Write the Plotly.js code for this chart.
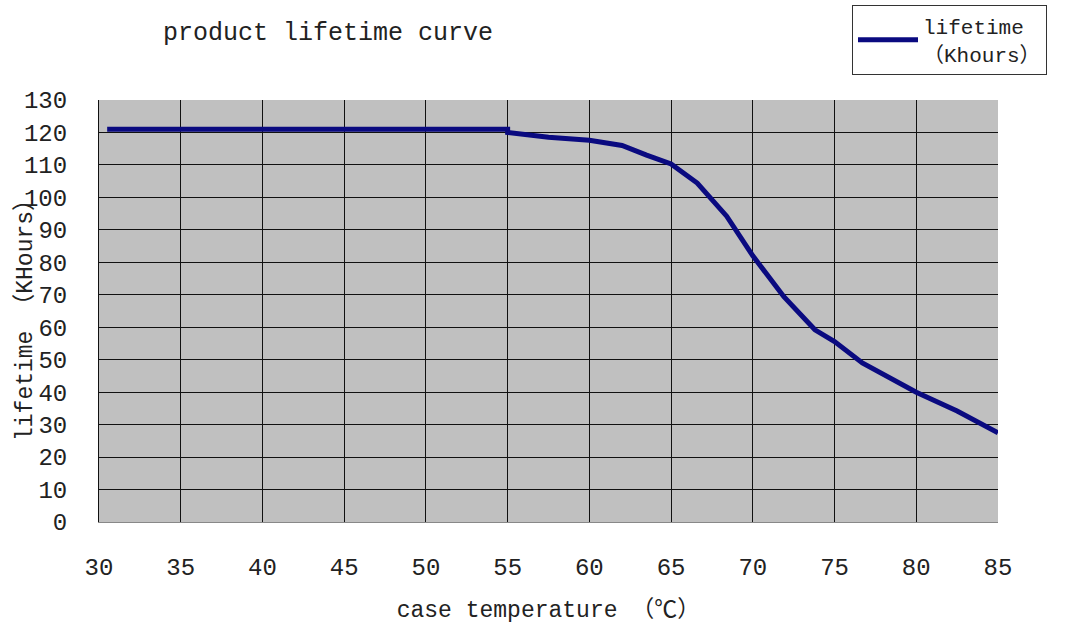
<!DOCTYPE html>
<html>
<head>
<meta charset="utf-8">
<script src="https://cdn.plot.ly/plotly-3.0.1.min.js"></script>
<style>html,body{margin:0;padding:0;background:#fff;}#chart{width:1067px;height:627px;}</style>
</head>
<body>
<div id="chart"></div>
<script>
const temperature = [30.5, 55, 55, 57.5, 60, 62, 63.5, 65, 66.6, 68.4, 70, 71.9, 73.8, 75, 76.7, 80, 82.5, 85];
const lifetime = [121, 121, 120, 118.5, 117.6, 116, 113, 110.3, 104.4, 94.2, 82, 69.4, 59.2, 55.6, 49, 40, 34.2, 27.5];
const xTicks = [30, 35, 40, 45, 50, 55, 60, 65, 70, 75, 80, 85];
const yTicks = [0, 10, 20, 30, 40, 50, 60, 70, 80, 90, 100, 110, 120, 130];
const yTitle = 'lifetime （KHours）';

const FONT = '"Liberation Mono", "DejaVu Sans Mono", "Noto Sans CJK SC", monospace';

const trace = {
  x: temperature,
  y: lifetime,
  type: 'scatter',
  mode: 'lines',
  name: 'lifetime<br>（Khours）',
  line: {color: '#0a0a80', width: 5}
};

const layout = {
  width: 1067,
  height: 627,
  margin: {l: 99, r: 69, t: 100, b: 105, autoexpand: false},
  paper_bgcolor: '#ffffff',
  plot_bgcolor: '#c0c0c0',
  font: {family: FONT, color: '#222', size: 22},
  title: {
    text: 'product lifetime curve',
    x: 163 / 1067, xref: 'container', xanchor: 'left',
    y: 1 - 31 / 627, yref: 'container', yanchor: 'middle',
    font: {family: FONT, size: 25, color: '#222'}
  },
  showlegend: true,
  legend: {
    x: (852 - 99) / 899, xanchor: 'left',
    y: (522 - 5) / 422, yanchor: 'top',
    bordercolor: '#333', borderwidth: 1,
    bgcolor: '#ffffff',
    itemwidth: 60,
    font: {family: FONT, size: 21, color: '#222'}
  },
  annotations: [{
    text: yTitle,
    xref: 'paper', yref: 'paper',
    x: (25 - 99) / 899, y: (522 - 315) / 422,
    xanchor: 'center', yanchor: 'middle',
    textangle: -90, showarrow: false,
    font: {family: FONT, size: 23, color: '#222'}
  }],
  xaxis: {
    range: [30, 85],
    tickvals: xTicks,
    ticktext: xTicks.map(String),
    showgrid: true, gridcolor: '#111', gridwidth: 1,
    zeroline: false,
    showline: true, linecolor: '#888', linewidth: 1,
    ticks: '',
    ticklabelstandoff: 23,
    tickfont: {family: FONT, size: 24, color: '#222'},
    title: {text: 'case temperature （℃）', standoff: 20, font: {family: FONT, size: 23, color: '#222'}}
  },
  yaxis: {
    range: [0, 130],
    tickvals: yTicks,
    ticktext: yTicks.map(String),
    showgrid: true, gridcolor: '#111', gridwidth: 1,
    zeroline: false,
    showline: true, linecolor: '#111', linewidth: 1,
    ticks: '',
    ticklabelstandoff: 26,
    tickfont: {family: FONT, size: 24, color: '#222'}
  }
};

Plotly.newPlot('chart', [trace], layout, {displayModeBar: false, staticPlot: true});
</script>
</body>
</html>
